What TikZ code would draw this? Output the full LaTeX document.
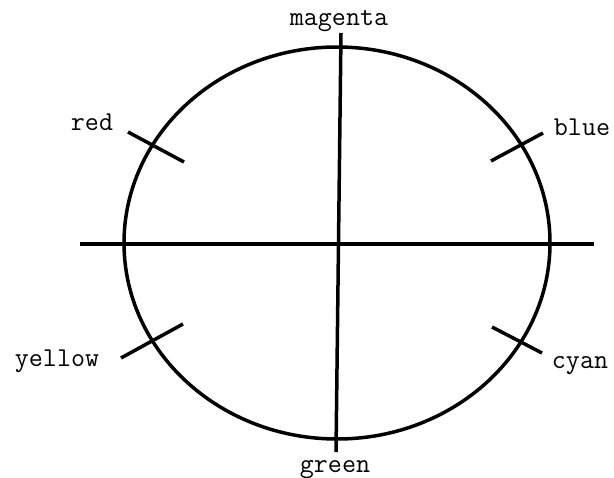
\documentclass[tikz,border=0pt]{standalone}
\usepackage{tikz}
\usetikzlibrary{positioning, calc}

\begin{document}
\begin{tikzpicture}[x=0.02cm, y=-0.02cm, line width=0.07cm,
    lbl/.style={font=\ttfamily\fontsize{15.5}{18}\selectfont, inner sep=0pt, anchor=base}]
  \useasboundingbox (0,0) rectangle (614,477);
  % colour circle and axes
  \coordinate (c) at (337,243);
  \draw (c) ellipse [x radius=213, y radius=196];
  \coordinate (wend) at (80,244);
  \coordinate (eend) at (594,244);
  \coordinate (nend) at (341,33);
  \coordinate (send) at (336,452);
  \draw (wend) -- (eend);
  \draw (nend) -- (send);
  % ticks on the circle
  \foreach \n/\ax/\ay/\bx/\by in {r/128/132/184/162, b/491/161/543/133,
                                  y/121/358/183/324, cy/492/327/542/353}{
    \coordinate (\n a) at (\ax,\ay);
    \coordinate (\n b) at (\bx,\by);
    \draw (\n a) -- (\n b);
  }
  % labels
  \node[lbl] (magenta) at (339,25) {magenta};
  \node[lbl] (red) at (92,130) {red};
  \node[lbl] (blue) at (582,135) {blue};
  \node[lbl] (yellow) at (57,366) {yellow};
  \node[lbl] (cyan) at (580,368) {cyan};
  \node[lbl] (green) at (335,472) {green};
\end{tikzpicture}
\end{document}
